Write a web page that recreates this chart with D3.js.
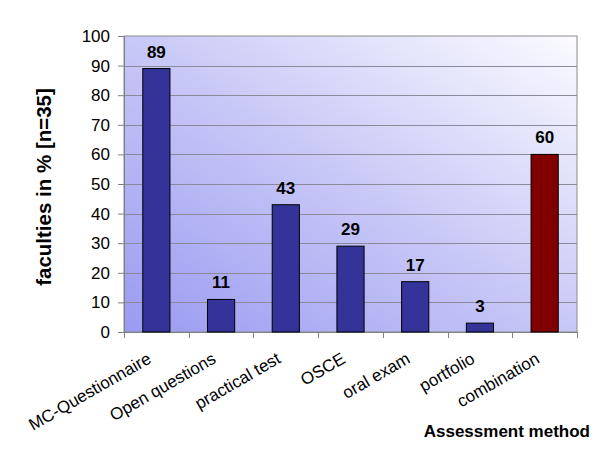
<!DOCTYPE html>
<html>
<head>
<meta charset="utf-8">
<script src="https://cdn.jsdelivr.net/npm/d3@7"></script>
<style>
  body { margin: 0; background: #fff; }
  svg { display: block; font-family: "Liberation Sans", Arial, sans-serif; }
</style>
</head>
<body>
<div id="chart"></div>
<script>
// data
const methods = ["MC-Questionnaire", "Open questions", "practical test", "OSCE", "oral exam", "portfolio", "combination"];
const percents = [89, 11, 43, 29, 17, 3, 60];
const barColors = ["#333399", "#333399", "#333399", "#333399", "#333399", "#333399", "#800000"];
const yTicks = [0, 10, 20, 30, 40, 50, 60, 70, 80, 90, 100];

const width = 600, height = 450;
const margin = { top: 36, right: 23, bottom: 118, left: 124 };
const innerW = width - margin.left - margin.right;
const innerH = height - margin.top - margin.bottom;

const svg = d3.select("#chart").append("svg")
  .attr("width", width)
  .attr("height", height);

// background gradient of the plot area
const defs = svg.append("defs");
const grad = defs.append("linearGradient")
  .attr("id", "bg")
  .attr("x1", "0%").attr("y1", "100%")
  .attr("x2", "100%").attr("y2", "0%");
grad.append("stop").attr("offset", "0%").attr("stop-color", "#9a9af2");
grad.append("stop").attr("offset", "50%").attr("stop-color", "#c8c8f7");
grad.append("stop").attr("offset", "100%").attr("stop-color", "#fbfbff");

const g = svg.append("g")
  .attr("transform", `translate(${margin.left},${margin.top})`);

const x = d3.scaleBand()
  .domain(methods)
  .range([0, innerW])
  .paddingInner(0.58)
  .paddingOuter(0.29);

const y = d3.scaleLinear()
  .domain([0, 100])
  .range([innerH, 0]);

g.append("rect")
  .attr("width", innerW)
  .attr("height", innerH)
  .attr("fill", "url(#bg)")
  .attr("stroke", "#8c8c8c")
  .attr("stroke-width", 1);

// gridlines
g.append("g")
  .selectAll("line")
  .data(yTicks.filter(d => d > 0 && d < 100))
  .join("line")
  .attr("x1", 0)
  .attr("x2", innerW)
  .attr("y1", d => Math.round(y(d)) + 0.5)
  .attr("y2", d => Math.round(y(d)) + 0.5)
  .attr("stroke", "#8a8a9a")
  .attr("stroke-width", 1);

// y axis
const yAxis = g.append("g")
  .call(d3.axisLeft(y).tickValues(yTicks).tickSize(6).tickPadding(8));
yAxis.select(".domain").attr("stroke", "#808080");
yAxis.selectAll(".tick line").attr("stroke", "#808080");
yAxis.selectAll("text")
  .attr("font-size", 17)
  .attr("font-family", "Liberation Sans, Arial, sans-serif")
  .attr("fill", "#000");

// x axis: ticks at category boundaries
const xAxisG = g.append("g").attr("transform", `translate(0,${innerH})`);
xAxisG.append("line")
  .attr("x1", 0).attr("x2", innerW)
  .attr("y1", 0.5).attr("y2", 0.5)
  .attr("stroke", "#808080");
const step = x.step();
xAxisG.selectAll(".bt")
  .data(d3.range(methods.length + 1))
  .join("line")
  .attr("class", "bt")
  .attr("x1", i => Math.round(i * step) + 0.5)
  .attr("x2", i => Math.round(i * step) + 0.5)
  .attr("y1", 0)
  .attr("y2", 6)
  .attr("stroke", "#808080");

xAxisG.selectAll(".lbl")
  .data(methods)
  .join("text")
  .attr("class", "lbl")
  .attr("text-anchor", "end")
  .attr("font-size", 17)
  .attr("transform", d => `translate(${x(d) + x.bandwidth() / 2 - 4},${30}) rotate(-30)`)
  .text(d => d);

// bars
g.selectAll(".bar")
  .data(methods)
  .join("rect")
  .attr("class", "bar")
  .attr("x", d => x(d))
  .attr("y", (d, i) => y(percents[i]))
  .attr("width", x.bandwidth())
  .attr("height", (d, i) => innerH - y(percents[i]))
  .attr("fill", (d, i) => barColors[i])
  .attr("stroke", "#000")
  .attr("stroke-width", 1);

// value labels
g.selectAll(".val")
  .data(methods)
  .join("text")
  .attr("class", "val")
  .attr("text-anchor", "middle")
  .attr("font-size", 17)
  .attr("font-weight", "bold")
  .attr("x", d => x(d) + x.bandwidth() / 2)
  .attr("y", (d, i) => y(percents[i]) - 11)
  .text((d, i) => percents[i]);

// axis titles
svg.append("text")
  .attr("transform", `translate(51,${margin.top + innerH / 2 + 3}) rotate(-90)`)
  .attr("text-anchor", "middle")
  .attr("font-size", 20.5)
  .attr("font-weight", "bold")
  .text("faculties in % [n=35]");

svg.append("text")
  .attr("x", 590)
  .attr("y", 437)
  .attr("text-anchor", "end")
  .attr("font-size", 17)
  .attr("font-weight", "bold")
  .text("Assessment method");
</script>
</body>
</html>
